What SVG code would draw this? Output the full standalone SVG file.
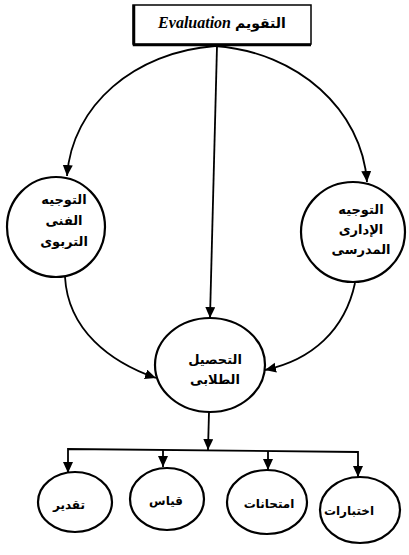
<svg xmlns="http://www.w3.org/2000/svg" width="409" height="555" viewBox="0 0 409 555">
<style>
.node ellipse{fill:#fff;stroke:#000;stroke-width:2.2}
.lbl{font-family:"DejaVu Sans",sans-serif;font-weight:bold;font-size:13px;text-anchor:middle;fill:#000}
.sm{font-size:12px}
.conn path{fill:none;stroke:#000;stroke-width:1.8}
</style>
<defs>
<marker id="ah" markerUnits="userSpaceOnUse" markerWidth="12" markerHeight="12" refX="11" refY="5" orient="auto">
<path d="M0,0 L11,5 L0,10 Z" fill="#000"/>
</marker>
</defs>
<g id="connectors" class="conn">
<path d="M215,46 C135,52 72,105 67,176" marker-end="url(#ah)"/>
<path d="M215,46 C298,52 362,110 367,182" marker-end="url(#ah)"/>
<path d="M217,46 L210,318" marker-end="url(#ah)"/>
<path d="M65,277 C68,330 110,362 156,378" marker-end="url(#ah)"/>
<path d="M355,283 C345,330 312,360 265,370" marker-end="url(#ah)"/>
<path d="M209,412 L208,450" marker-end="url(#ah)"/>
<path d="M68,472 L68,449 L358,452 L358,477"/>
<path d="M68,462 L68,473" marker-end="url(#ah)"/>
<path d="M163,450 L163,467" marker-end="url(#ah)"/>
<path d="M268,451 L268,470" marker-end="url(#ah)"/>
<path d="M358,465 L358,477" marker-end="url(#ah)"/>
</g>
<g id="evaluation">
<rect x="133" y="5" width="178" height="39" fill="#fff" stroke="#000" stroke-width="1.5"/>
<path d="M134,5 L134,45 L311,45" fill="none" stroke="#000" stroke-width="2.5"/>
<text x="222" y="28" text-anchor="middle" font-family="Liberation Serif,serif" font-weight="bold" font-size="16"><tspan font-style="italic">Evaluation</tspan> <tspan font-family="DejaVu Sans,sans-serif" font-size="14">التقويم</tspan></text>
</g>
<g id="tawjih-fanni" class="node">
<ellipse cx="56" cy="227" rx="49" ry="50"/>
<text class="lbl" x="64" y="204">التوجيه</text>
<text class="lbl" x="64" y="225">الفنى</text>
<text class="lbl" x="64" y="246">التربوى</text>
</g>
<g id="tawjih-idari" class="node">
<ellipse cx="353" cy="232" rx="52" ry="50"/>
<text class="lbl" x="361" y="214">التوجيه</text>
<text class="lbl" x="361" y="234">الإدارى</text>
<text class="lbl" x="361" y="254">المدرسى</text>
</g>
<g id="tahsil" class="node">
<ellipse cx="210" cy="365" rx="55" ry="47"/>
<text class="lbl" x="215" y="364">التحصيل</text>
<text class="lbl" x="215" y="384">الطلابى</text>
</g>
<g id="taqdir" class="node">
<ellipse cx="75" cy="502" rx="37" ry="30"/>
<text class="lbl sm" x="69" y="509">تقدير</text>
</g>
<g id="qiyas" class="node">
<ellipse cx="167" cy="499" rx="37" ry="31"/>
<text class="lbl sm" x="166" y="505">قياس</text>
</g>
<g id="imtihanat" class="node">
<ellipse cx="267" cy="502" rx="40" ry="32"/>
<text class="lbl sm" x="269" y="508">امتحانات</text>
</g>
<g id="ikhtibarat" class="node">
<ellipse cx="360" cy="510" rx="40" ry="33"/>
<text class="lbl sm" x="349" y="515">اختبارات</text>
</g>
</svg>
